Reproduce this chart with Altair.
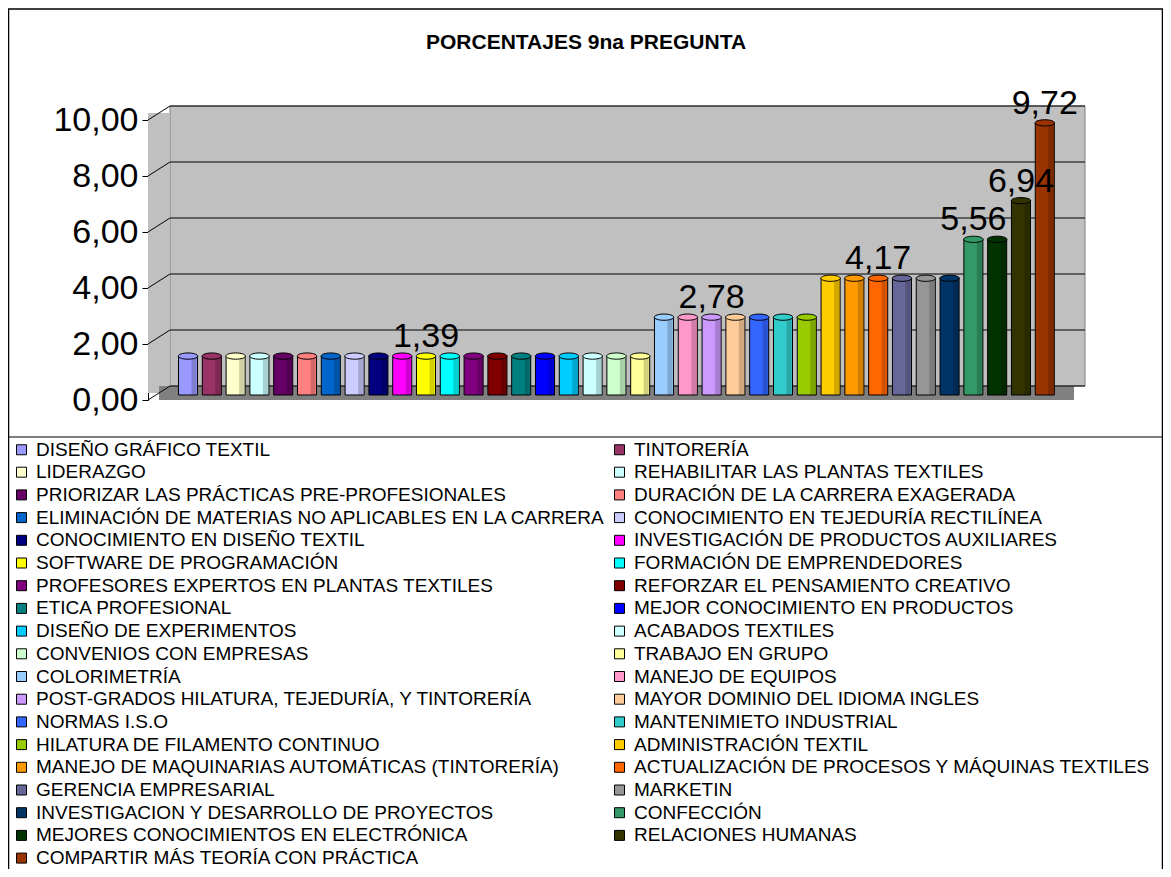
import altair as alt
import pandas as pd

# ---- data ----
categories = [
    "DISEÑO GRÁFICO TEXTIL", "TINTORERÍA", "LIDERAZGO", "REHABILITAR LAS PLANTAS TEXTILES",
    "PRIORIZAR LAS PRÁCTICAS PRE-PROFESIONALES", "DURACIÓN DE LA CARRERA EXAGERADA",
    "ELIMINACIÓN DE MATERIAS NO APLICABLES EN LA CARRERA", "CONOCIMIENTO EN TEJEDURÍA RECTILÍNEA",
    "CONOCIMIENTO EN DISEÑO TEXTIL", "INVESTIGACIÓN DE PRODUCTOS AUXILIARES",
    "SOFTWARE DE PROGRAMACIÓN", "FORMACIÓN DE EMPRENDEDORES",
    "PROFESORES EXPERTOS EN PLANTAS TEXTILES", "REFORZAR EL PENSAMIENTO CREATIVO",
    "ETICA PROFESIONAL", "MEJOR CONOCIMIENTO EN PRODUCTOS",
    "DISEÑO DE EXPERIMENTOS", "ACABADOS TEXTILES",
    "CONVENIOS CON EMPRESAS", "TRABAJO EN GRUPO",
    "COLORIMETRÍA", "MANEJO DE EQUIPOS",
    "POST-GRADOS HILATURA, TEJEDURÍA, Y TINTORERÍA", "MAYOR DOMINIO DEL IDIOMA INGLES",
    "NORMAS I.S.O", "MANTENIMIETO INDUSTRIAL",
    "HILATURA DE FILAMENTO CONTINUO", "ADMINISTRACIÓN TEXTIL",
    "MANEJO DE MAQUINARIAS AUTOMÁTICAS (TINTORERÍA)", "ACTUALIZACIÓN DE PROCESOS Y MÁQUINAS TEXTILES",
    "GERENCIA EMPRESARIAL", "MARKETIN",
    "INVESTIGACION Y DESARROLLO DE PROYECTOS", "CONFECCIÓN",
    "MEJORES CONOCIMIENTOS EN ELECTRÓNICA", "RELACIONES HUMANAS",
    "COMPARTIR MÁS TEORÍA CON PRÁCTICA",
]
values = [1.39] * 20 + [2.78] * 7 + [4.17] * 6 + [5.56] * 2 + [6.94, 9.72]
colors = [
    "#9999FF", "#993366", "#FFFFCC", "#CCFFFF", "#660066", "#FF8080", "#0066CC", "#CCCCFF",
    "#000080", "#FF00FF", "#FFFF00", "#00FFFF", "#800080", "#800000", "#008080", "#0000FF",
    "#00CCFF", "#CCFFFF", "#CCFFCC", "#FFFF99", "#99CCFF", "#FF99CC", "#CC99FF", "#FFCC99",
    "#3366FF", "#33CCCC", "#99CC00", "#FFCC00", "#FF9900", "#FF6600", "#666699", "#969696",
    "#003366", "#339966", "#003300", "#333300", "#993300",
]
label_categories = ["SOFTWARE DE PROGRAMACIÓN", "POST-GRADOS HILATURA, TEJEDURÍA, Y TINTORERÍA",
                    "ACTUALIZACIÓN DE PROCESOS Y MÁQUINAS TEXTILES", "CONFECCIÓN",
                    "RELACIONES HUMANAS", "COMPARTIR MÁS TEORÍA CON PRÁCTICA"]
y_ticks = [0, 2, 4, 6, 8, 10]
title_text = "PORCENTAJES 9na PREGUNTA"

# ---- tables ----
df = pd.DataFrame({"cat": categories, "val": values})
lab = df[df["cat"].isin(label_categories)].copy()
lab["txt"] = lab["val"].map(lambda v: f"{v:.2f}".replace(".", ","))
ticks = pd.DataFrame({"t": y_ticks})
one = pd.DataFrame({"k": [0]})

# legend is filled column by column: interleave so it reads row by row (as in the original)
legend_order = categories[0::2] + categories[1::2]
legend_colors = colors[0::2] + colors[1::2]

W, H = 937, 280
DX, DY = 22, 14  # 3D depth offsets
FONT = "Liberation Sans"

xs = alt.X("cat:N", sort=None, axis=None,
           scale=alt.Scale(domain=categories, paddingInner=0.2, paddingOuter=0.5,
                           range=[18.6, 918.2]))
yaxis = alt.Axis(values=y_ticks, title=None, grid=False, domainColor="black",
                 tickColor="black", tickSize=6, labelFont=FONT, labelFontSize=34,
                 labelColor="black", labelPadding=4,
                 labelExpr="replace(format(datum.value, '.2f'), '.', ',')")
yscale = alt.Scale(domain=[0, 10], nice=False)
ys = alt.Y("val:Q", scale=yscale, axis=yaxis)
color_scale = alt.Scale(domain=legend_order, range=legend_colors)

base_one = alt.Chart(one)

border = base_one.mark_rect(filled=False, stroke="black", strokeWidth=1.5).encode(
    x=alt.value(-139.5), x2=alt.value(1014.5), y=alt.value(-111), y2=alt.value(780))
legend_line = base_one.mark_rule(color="black", strokeWidth=1).encode(
    x=alt.value(-140), x2=alt.value(1030), y=alt.value(317))
back_wall = base_one.mark_rect(fill="#C0C0C0", stroke="#808080", strokeWidth=1).encode(
    x=alt.value(DX), x2=alt.value(W), y=alt.value(-DY), y2=alt.value(H - DY))
side_wall = base_one.mark_rect(fill="#C0C0C0").encode(
    x=alt.value(0), x2=alt.value(DX), y=alt.value(-DY / 2), y2=alt.value(H - DY / 2))
floor = base_one.mark_rect(fill="#808080").encode(
    x=alt.value(DX / 2), x2=alt.value(W - DX / 2), y=alt.value(H - DY), y2=alt.value(H))

grid = alt.Chart(ticks).mark_rule(color="black", strokeWidth=1, yOffset=-DY).encode(
    y=alt.Y("t:Q", scale=yscale, axis=yaxis),
    x=alt.value(DX), x2=alt.value(W))
diag = alt.Chart(ticks).mark_rule(color="black", strokeWidth=1, y2Offset=-DY).encode(
    y=alt.Y("t:Q", scale=yscale, axis=yaxis),
    y2="t:Q", x=alt.value(0), x2=alt.value(DX))

bars = alt.Chart(df).mark_bar(stroke="black", strokeWidth=1, yOffset=-5).encode(
    x=xs, y=ys,
    color=alt.Color("cat:N", scale=color_scale, sort=None,
                    legend=alt.Legend(orient="none", legendX=-136, legendY=320, columns=2,
                                      title=None, symbolType="square", symbolSize=100,
                                      symbolStrokeColor="black", symbolStrokeWidth=1,
                                      labelFont=FONT, labelFontSize=19, labelColor="black",
                                      labelLimit=2000, rowPadding=2.7, columnPadding=4,
                                      labelOffset=5, padding=0, symbolLimit=0)))
shade = alt.Chart(df).mark_bar(color="black", opacity=0.18, yOffset=-5, xOffset=6, width=5).encode(
    x=xs, y="val:Q")
ellipse = "M-1,0 A1,0.32,0,1,1,1,0 A1,0.32,0,1,1,-1,0 Z"
caps = alt.Chart(df).mark_point(shape=ellipse, filled=True, opacity=1, stroke="black",
                                strokeWidth=1, size=380, yOffset=-5).encode(
    x=xs, y="val:Q", color=alt.Color("cat:N", scale=color_scale, sort=None, legend=None))
labels = alt.Chart(lab).mark_text(font=FONT, fontSize=34, color="black", baseline="alphabetic",
                                  dy=-14).encode(x=xs, y="val:Q", text="txt:N")
title = base_one.mark_text(font=FONT, fontSize=21, fontWeight="bold", color="black",
                           baseline="alphabetic").encode(
    x=alt.value(438), y=alt.value(-71), text=alt.value(title_text))

chart = alt.layer(border, legend_line, back_wall, side_wall, floor, grid, diag,
                  bars, shade, caps, labels, title).properties(
    width=W, height=H,
    autosize=alt.AutoSizeParams(type="none"),
    padding={"left": 140, "top": 112, "right": 78, "bottom": 469},
    background="white",
).configure_view(stroke=None)

chart.save("out.html", embed_options={"renderer": "svg", "actions": False})
